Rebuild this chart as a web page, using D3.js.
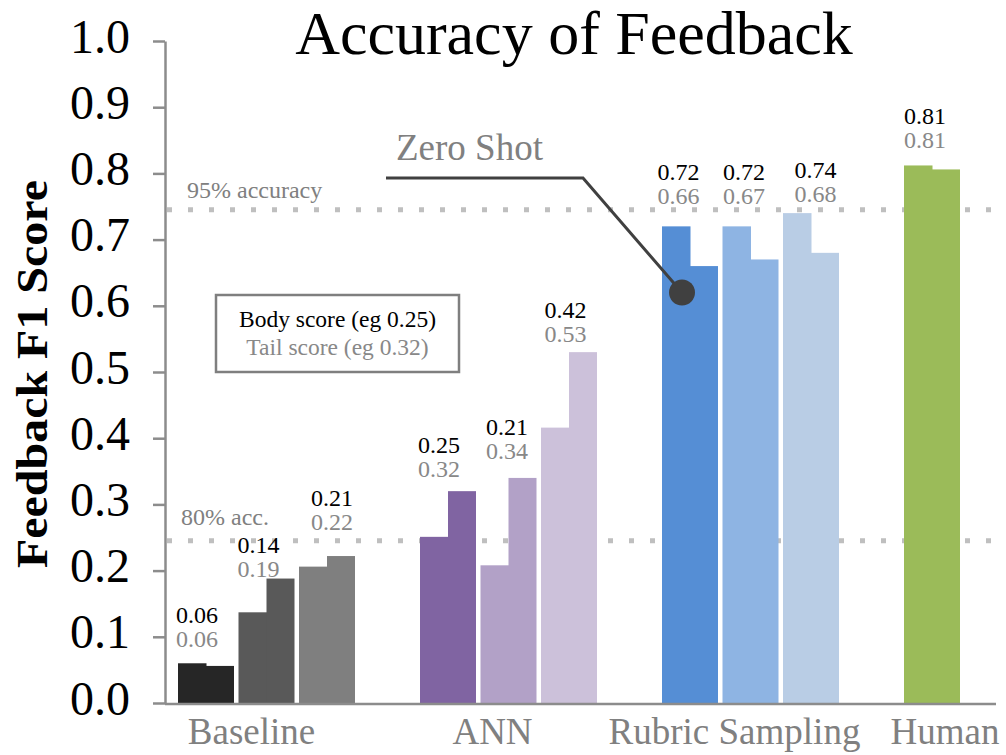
<!DOCTYPE html>
<html>
<head>
<meta charset="utf-8">
<script src="https://cdn.jsdelivr.net/npm/d3@7/dist/d3.min.js"></script>
<style>
  html, body { margin: 0; padding: 0; background: #fff; }
  svg { display: block; }
  text { font-family: "Liberation Serif", "Times New Roman", serif; }
</style>
</head>
<body>
<svg id="chart" width="1006" height="755"></svg>
<script>
// ---------------- data ----------------
const groups = ["Baseline", "ANN", "Rubric Sampling", "Human"];
const barGroup = ["Baseline", "Baseline", "Baseline", "ANN", "ANN", "ANN",
                  "Rubric Sampling", "Rubric Sampling", "Rubric Sampling", "Human"];
const bodyScore = [0.060, 0.137, 0.206, 0.251, 0.208, 0.416, 0.72, 0.72, 0.74, 0.812];
const tailScore = [0.056, 0.188, 0.222, 0.32, 0.34, 0.53, 0.66, 0.67, 0.68, 0.806];
const yTicks = [0.0, 0.1, 0.2, 0.3, 0.4, 0.5, 0.6, 0.7, 0.8, 0.9, 1.0];
const refValues = [0.745, 0.245];
const refLabels = ["95% accuracy", "80% acc."];
const zeroShotPoint = 0.62;

// ---------------- styles / layout ----------------
const barColors = ["#262626", "#595959", "#7f7f7f", "#8064a2", "#b2a1c7", "#ccc1da",
                   "#558ed5", "#8eb4e3", "#b9cde5", "#9bbb59"];
const labelGap = [16, 2, 26, 14, 19, 10, 22, 22, 11, 17];      // px between bar top and value labels
const labelShift = [-9, -8, 5, -9, -1.5, -3.5, -11.5, -6.5, 4.5, -7]; // px horizontal nudge
const axisGray = "#8c8c8c";
const textGray = "#808080";
const tailGray = "#888888";
const fmt = d3.format(".2f");

const svg = d3.select("#chart");

// ---------------- scales ----------------
const y = d3.scaleLinear().domain([0, 1]).range([703, 41]);

// each group occupies 4 slots (3 bars + 1 gap)
const slotsPerGroup = 4;
const nSlots = groups.length * slotsPerGroup;
const x = d3.scaleBand()
  .domain(d3.range(nSlots))
  .range([175.75, 175.75 + nSlots * 60.5])
  .paddingInner(0.0744)
  .paddingOuter(0.0372);

const bars = barGroup.map((g, i) => {
  const gi = groups.indexOf(g);
  const within = barGroup.slice(0, i).filter(d => d === g).length;
  return { group: g, gi, slot: gi * slotsPerGroup + within, body: bodyScore[i], tail: tailScore[i], color: barColors[i], i };
});
const bw = x.bandwidth();

// ---------------- reference lines ----------------
svg.append("g").selectAll("line").data(refValues).join("line")
  .attr("x1", 167).attr("x2", 1006)
  .attr("y1", d => y(d)).attr("y2", d => y(d))
  .attr("stroke", "#bfbfbf").attr("stroke-width", 5)
  .attr("stroke-dasharray", "5,16");

svg.append("g").selectAll("text").data(refValues).join("text")
  .attr("x", (d, i) => i === 0 ? 187 : 181)
  .attr("y", (d, i) => y(d) - (i === 0 ? 12 : 16))
  .attr("font-size", 24)
  .attr("fill", textGray)
  .text((d, i) => refLabels[i]);

// ---------------- bars ----------------
const bg = svg.append("g");
bg.selectAll("rect.body").data(bars).join("rect")
  .attr("class", "body")
  .attr("x", d => x(d.slot))
  .attr("width", bw / 2 + 0.5)
  .attr("y", d => y(d.body))
  .attr("height", d => y(0) - y(d.body))
  .attr("fill", d => d.color);
bg.selectAll("rect.tail").data(bars).join("rect")
  .attr("class", "tail")
  .attr("x", d => x(d.slot) + bw / 2)
  .attr("width", bw / 2)
  .attr("y", d => y(d.tail))
  .attr("height", d => y(0) - y(d.tail))
  .attr("fill", d => d.color);

// value labels
const lg = svg.append("g");
lg.selectAll("text.tailv").data(bars).join("text")
  .attr("class", "tailv")
  .attr("x", d => x(d.slot) + bw / 2 + labelShift[d.i])
  .attr("y", d => y(Math.max(d.body, d.tail)) - labelGap[d.i])
  .attr("text-anchor", "middle")
  .attr("font-size", 24)
  .attr("fill", tailGray)
  .text(d => fmt(d.tail));
lg.selectAll("text.bodyv").data(bars).join("text")
  .attr("class", "bodyv")
  .attr("x", d => x(d.slot) + bw / 2 + labelShift[d.i])
  .attr("y", d => y(Math.max(d.body, d.tail)) - labelGap[d.i] - 24)
  .attr("text-anchor", "middle")
  .attr("font-size", 24)
  .attr("fill", "#000")
  .text(d => fmt(d.body));

// ---------------- axes ----------------
const yAxis = d3.axisLeft(y)
  .tickValues(yTicks)
  .tickFormat(d3.format(".1f"))
  .tickSize(12)
  .tickSizeOuter(0)
  .tickPadding(23);
const ya = svg.append("g").attr("transform", "translate(165,0)").call(yAxis);
ya.select(".domain").attr("stroke", axisGray).attr("stroke-width", 2.5);
ya.selectAll(".tick line").attr("stroke", axisGray).attr("stroke-width", 2.5);
ya.selectAll(".tick text")
  .attr("font-family", "'Liberation Serif', 'Times New Roman', serif")
  .attr("font-size", 48)
  .attr("fill", "#000")
  .attr("dy", "0.23em");

// x axis baseline
svg.append("line")
  .attr("x1", 165).attr("x2", 996)
  .attr("y1", y(0) + 1).attr("y2", y(0) + 1)
  .attr("stroke", axisGray).attr("stroke-width", 2.5);

// category labels
const labelNudge = [-15, -16, -16, 13];
svg.append("g").selectAll("text").data(groups).join("text")
  .attr("x", (g, gi) => {
    const b = bars.filter(d => d.group === g);
    const left = x(b[0].slot), right = x(b[b.length - 1].slot) + bw;
    return (left + right) / 2 + labelNudge[gi];
  })
  .attr("y", 744)
  .attr("text-anchor", "middle")
  .attr("font-size", 37)
  .attr("fill", textGray)
  .text(d => d);

// ---------------- titles ----------------
svg.append("text")
  .attr("x", 574).attr("y", 54)
  .attr("text-anchor", "middle")
  .attr("font-size", 62)
  .attr("fill", "#000")
  .text("Accuracy of Feedback");

svg.append("text")
  .attr("transform", "translate(47,374) rotate(-90)")
  .attr("text-anchor", "middle")
  .attr("font-size", 44)
  .attr("font-weight", "bold")
  .attr("fill", "#000")
  .attr("textLength", 388)
  .attr("lengthAdjust", "spacingAndGlyphs")
  .text("Feedback F1 Score");

// ---------------- legend ----------------
const legend = svg.append("g");
legend.append("rect")
  .attr("x", 216).attr("y", 295).attr("width", 243).attr("height", 77)
  .attr("fill", "#fff").attr("stroke", "#7f7f7f").attr("stroke-width", 2.5);
legend.append("text")
  .attr("x", 337.5).attr("y", 327).attr("text-anchor", "middle")
  .attr("font-size", 23.5).attr("fill", "#000")
  .text(`Body score (eg ${fmt(bodyScore[3])})`);
legend.append("text")
  .attr("x", 337.5).attr("y", 355).attr("text-anchor", "middle")
  .attr("font-size", 23.5).attr("fill", tailGray)
  .text(`Tail score (eg ${fmt(tailScore[3])})`);

// ---------------- zero-shot annotation ----------------
const zs = bars[6];
const cx = x(zs.slot) + 20, cy = y(zeroShotPoint);
const ann = svg.append("g");
ann.append("path")
  .attr("d", d3.line()([[386, 178], [583, 178], [cx, cy]]))
  .attr("fill", "none").attr("stroke", "#404040").attr("stroke-width", 3);
ann.append("circle")
  .attr("cx", cx).attr("cy", cy).attr("r", 13)
  .attr("fill", "#404040");
ann.append("text")
  .attr("x", 396).attr("y", 160)
  .attr("font-size", 37).attr("fill", textGray)
  .text("Zero Shot");
</script>
</body>
</html>
